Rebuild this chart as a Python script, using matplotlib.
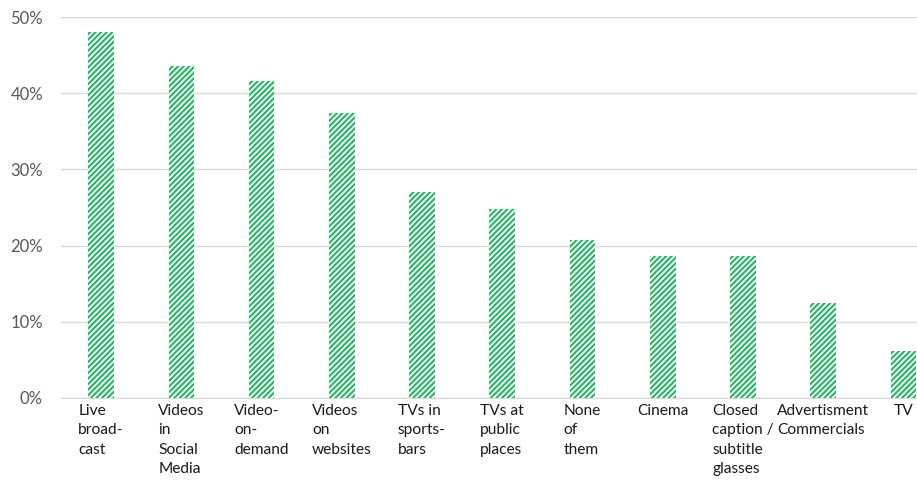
import matplotlib
matplotlib.use('Agg')
from matplotlib import pyplot as plt
from matplotlib.ticker import PercentFormatter

# data
categories = ['Live\nbroad-\ncast', 'Videos\nin\nSocial\nMedia', 'Video-\non-\ndemand',
              'Videos\non\nwebsites', 'TVs in\nsports-\nbars', 'TVs at\npublic\nplaces',
              'None\nof\nthem', 'Cinema', 'Closed\ncaption /\nsubtitle\nglasses',
              'Advertisment\nCommercials', 'TV']
shares = [48.0, 43.6, 41.6, 37.4, 27.0, 24.8, 20.7, 18.6, 18.6, 12.5, 6.2]
yticks = [0, 10, 20, 30, 40, 50]

green = '#22b862'
plt.rcParams['font.family'] = ['Lato', 'DejaVu Sans']
plt.rcParams['hatch.linewidth'] = 1.5
plt.rcParams['hatch.color'] = green

fig = plt.figure(figsize=(9.17, 4.82), dpi=100)
ax = fig.add_axes([61/917, 84/482, 1 - 61/917, 381/482])

x = list(range(len(categories)))
ax.bar(x, shares, width=0.32, facecolor='white', edgecolor=green,
       hatch='//////', linewidth=0, zorder=3)

ax.set_ylim(0, 50)
ax.set_xlim(-0.5, 10.17)
ax.set_yticks(yticks)
ax.yaxis.set_major_formatter(PercentFormatter(decimals=0))
ax.grid(axis='y', color='#d9d9d9', linewidth=1, zorder=0)

ax.set_xticks(x)
ax.set_xticklabels(categories, ha='center', multialignment='left',
                   fontsize=11.2, color='#1a1a1a', linespacing=1.5)
ax.tick_params(axis='x', length=0, pad=4)
ax.tick_params(axis='y', length=0, pad=13, labelsize=12, labelcolor='#595959')

for side in ('top', 'right', 'left'):
    ax.spines[side].set_visible(False)
ax.spines['bottom'].set_color('#d9d9d9')

fig.savefig('out.png', dpi=100)
